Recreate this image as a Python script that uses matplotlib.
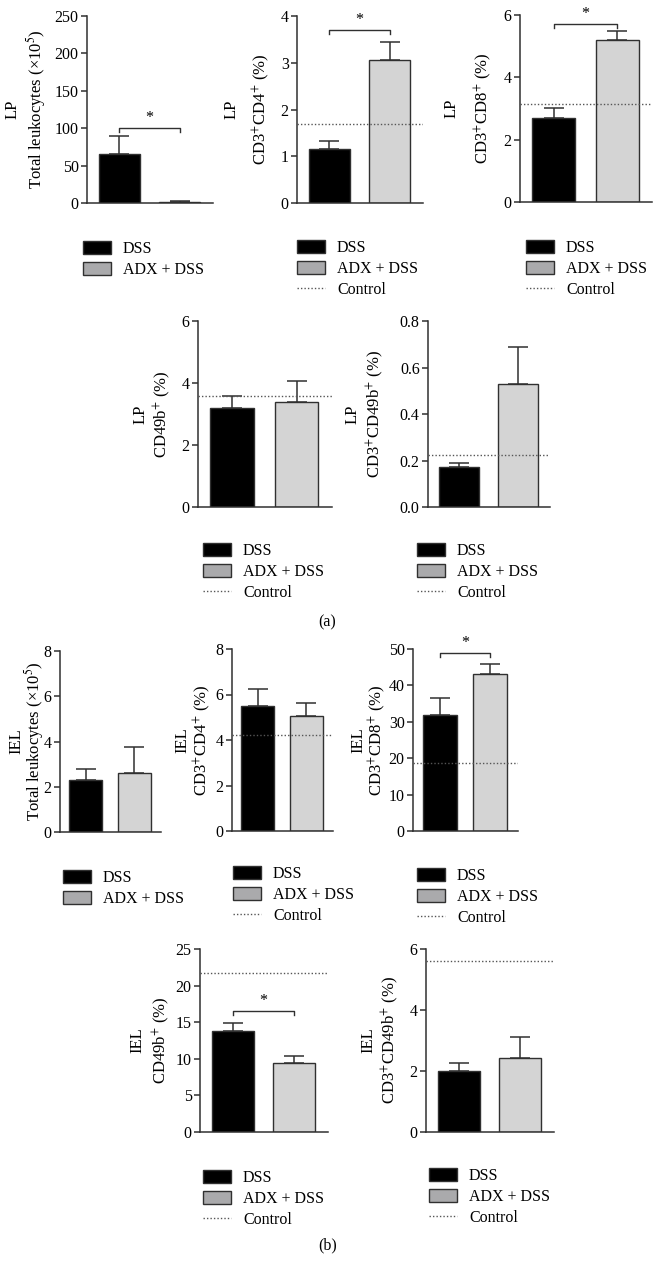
import numpy as np
import matplotlib
matplotlib.use("Agg")
from matplotlib import pyplot as plt
from matplotlib.patches import Patch
from matplotlib.lines import Line2D

plt.rcParams['font.family'] = ['Liberation Serif', 'DejaVu Serif']
plt.rcParams['mathtext.fontset'] = 'stix'

W, H = 662, 1278

# data, panel order: LP x5, then IEL x5
tissue = ["LP"] * 5 + ["IEL"] * 5
measure = ["Total leukocytes (×10$^{5}$)",
           "CD3$^{+}$CD4$^{+}$ (%)",
           "CD3$^{+}$CD8$^{+}$ (%)",
           "CD49b$^{+}$ (%)",
           "CD3$^{+}$CD49b$^{+}$ (%)",
           "Total leukocytes (×10$^{5}$)",
           "CD3$^{+}$CD4$^{+}$ (%)",
           "CD3$^{+}$CD8$^{+}$ (%)",
           "CD49b$^{+}$ (%)",
           "CD3$^{+}$CD49b$^{+}$ (%)"]
dss_mean = [66, 1.15, 2.7, 3.2, 0.172, 2.3, 5.5, 31.8, 13.8, 2.0]
dss_sem = [23, 0.18, 0.32, 0.38, 0.018, 0.5, 0.75, 4.7, 1.1, 0.27]
adx_mean = [2.0, 3.05, 5.2, 3.38, 0.53, 2.62, 5.05, 43.0, 9.4, 2.42]
adx_sem = [0.6, 0.4, 0.3, 0.67, 0.16, 1.15, 0.57, 2.8, 1.0, 0.68]
control = [None, 1.68, 3.15, 3.58, 0.225, None, 4.2, 18.6, 21.7, 5.62]
signif = [100, 3.7, 5.7, None, None, None, None, 49, 16.5, None]
ymax = [250, 4, 6, 6, 0.8, 8, 8, 50, 25, 6]
ystep = [50, 1, 2, 2, 0.2, 2, 2, 10, 5, 2]

# layout in pixels: axes (left, top, right, bottom), legend anchor, label columns
boxes = [(87, 16, 213, 203), (297, 16, 423, 203), (520, 15, 652, 202),
         (198, 321, 332, 507), (428, 321, 550, 507),
         (60, 651, 161, 832), (232, 649, 333, 831), (413, 649, 518, 831),
         (200, 949, 328, 1132), (426, 949, 554, 1132)]
leg_pos = [(83, 241), (297, 240), (526, 240), (203, 543), (417, 543),
           (63, 870), (233, 866), (417, 868), (203, 1170), (429, 1168)]
lab_x = [(13, 36), (232, 261), (452, 483), (141, 162), (353, 375),
         (16, 34), (182, 202), (358, 377), (137, 161), (368, 390)]

fig = plt.figure(figsize=(W / 100, H / 100), dpi=100)

for i in range(10):
    l, t, r, b = boxes[i]
    ax = fig.add_axes([l / W, 1 - b / H, (r - l) / W, (b - t) / H])
    x = np.array([0, 1])
    ax.bar(x, [dss_mean[i], adx_mean[i]], width=0.68,
           color=['black', '#d4d4d4'], edgecolor='#303030', linewidth=1, zorder=2)
    ax.errorbar(x, [dss_mean[i], adx_mean[i]],
                yerr=[[0, 0], [dss_sem[i], adx_sem[i]]],
                fmt='none', ecolor='#303030', elinewidth=1.1, capsize=7.5,
                capthick=1.1, zorder=1)
    if control[i] is not None:
        ax.axhline(control[i], color='#555555', linestyle=(0, (1, 1.5)),
                   linewidth=1, zorder=3)
    if signif[i] is not None:
        d = 0.022 * ymax[i]
        ax.plot([0, 0, 1, 1], [signif[i] - d, signif[i], signif[i], signif[i] - d],
                color='#303030', linewidth=1)
        ax.text(0.5, signif[i] + 0.01 * ymax[i], '*', ha='center', va='bottom',
                fontsize=11.5)
    ax.set_xlim(-0.53, 1.55)
    ax.set_ylim(0, ymax[i])
    ticks = np.arange(0, ymax[i] + ystep[i] / 2, ystep[i])
    ax.set_yticks(ticks)
    if ymax[i] < 1:
        ax.set_yticklabels(['%.1f' % v for v in ticks])
    ax.set_xticks([])
    for s in ['top', 'right']:
        ax.spines[s].set_visible(False)
    for s in ['left', 'bottom']:
        ax.spines[s].set_linewidth(1.1)
        ax.spines[s].set_color('#303030')
    ax.tick_params(axis='y', direction='out', length=4, width=1.1,
                   color='#303030', labelsize=11.5, pad=2)

    # two-line y label
    yc = 1 - (t + b) / 2 / H
    fig.text(lab_x[i][0] / W, yc, tissue[i], rotation=90, ha='center',
             va='center', fontsize=12)
    fig.text(lab_x[i][1] / W, yc, measure[i], rotation=90, ha='center',
             va='center', fontsize=12)

    handles = [Patch(facecolor='black', edgecolor='#303030', label='DSS'),
               Patch(facecolor='#aaaaac', edgecolor='#303030', label='ADX + DSS')]
    if control[i] is not None:
        handles.append(Line2D([], [], color='#555555', linestyle=(0, (1, 1.5)),
                              linewidth=1, label='Control'))
    lx, ly = leg_pos[i]
    ax.legend(handles=handles, loc='upper left', frameon=False,
              bbox_to_anchor=(lx / W, 1 - ly / H), bbox_transform=fig.transFigure,
              fontsize=11.5, handlelength=1.75, handleheight=0.85, labelspacing=0.3,
              handletextpad=0.75, borderpad=0, borderaxespad=0)

fig.text(327 / W, 1 - 622 / H, '(a)', ha='center', va='center', fontsize=11.5)
fig.text(328 / W, 1 - 1245 / H, '(b)', ha='center', va='center', fontsize=11.5)

fig.savefig('out.png', dpi=100)
